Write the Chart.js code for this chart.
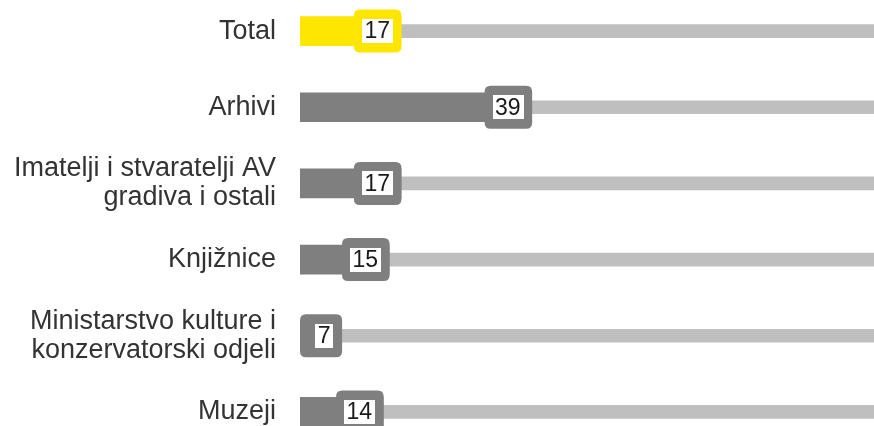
<!DOCTYPE html>
<html><head><meta charset="utf-8">
<script src="https://cdn.jsdelivr.net/npm/chart.js@4.4.1/dist/chart.umd.min.js"></script>
<style>
html,body{margin:0;padding:0;width:874px;height:426px;overflow:hidden;background:#fff;}
#wrap{position:absolute;left:0;top:-7px;width:894px;height:457px;}
</style></head><body>
<div id="wrap"><canvas id="c"></canvas></div>
<script>
const categories = [
  ["Total"],
  ["Arhivi"],
  ["Imatelji i stvaratelji AV", "gradiva i ostali"],
  ["Knjižnice"],
  ["Ministarstvo kulture i", "konzervatorski odjeli"],
  ["Muzeji"]
];
const values = [17, 39, 17, 15, 7, 14];
const trackValues = [100, 100, 100, 100, 100, 100];
const axisMin = 0;
const axisMax = 100;

const YELLOW = '#FFE600', GRAY = '#7F7F7F', TRACK = '#BFBFBF';
const colorFor = i => i === 0 ? YELLOW : GRAY;

function roundRect(ctx, x, y, w, h, r) {
  ctx.beginPath();
  ctx.moveTo(x + r, y);
  ctx.lineTo(x + w - r, y);
  ctx.quadraticCurveTo(x + w, y, x + w, y + r);
  ctx.lineTo(x + w, y + h - r);
  ctx.quadraticCurveTo(x + w, y + h, x + w - r, y + h);
  ctx.lineTo(x + r, y + h);
  ctx.quadraticCurveTo(x, y + h, x, y + h - r);
  ctx.lineTo(x, y + r);
  ctx.quadraticCurveTo(x, y, x + r, y);
  ctx.closePath();
}

const labelBoxes = {
  id: 'labelBoxes',
  afterDatasetsDraw(chart) {
    const ctx = chart.ctx;
    const meta = chart.getDatasetMeta(0);
    ctx.save();
    ctx.font = '23px "Liberation Sans", Arial, sans-serif';
    meta.data.forEach((el, i) => {
      const txt = String(values[i]);
      const tw = ctx.measureText(txt).width;
      const innerW = tw + 5;
      const outerW = Math.max(40, innerW + 17);
      const outerH = 43;
      const right = el.x + 0.5;
      let left = right - outerW;
      if (left < chart.chartArea.left + 6) left = chart.chartArea.left;
      const top = el.y - outerH / 2;
      ctx.fillStyle = colorFor(i);
      roundRect(ctx, left, top, right - left, outerH, 6);
      ctx.fill();
      const innerRight = right - 9;
      const innerLeft = innerRight - innerW;
      const innerH = 24;
      ctx.fillStyle = '#FFFFFF';
      ctx.fillRect(Math.round(innerLeft), Math.round(el.y - innerH / 2), Math.round(innerW), innerH);
      ctx.fillStyle = '#1A1A1A';
      ctx.textAlign = 'center';
      ctx.textBaseline = 'middle';
      ctx.fillText(txt, innerLeft + innerW / 2, el.y + 1);
    });
    ctx.restore();
  }
};

new Chart(document.getElementById('c'), {
  type: 'bar',
  data: {
    labels: categories,
    datasets: [
      {
        data: values,
        backgroundColor: ctx => colorFor(ctx.dataIndex),
        barThickness: 29,
        grouped: false,
        borderWidth: 0
      },
      {
        data: trackValues,
        backgroundColor: TRACK,
        barThickness: 13,
        grouped: false,
        borderWidth: 0
      }
    ]
  },
  options: {
    indexAxis: 'y',
    responsive: true,
    maintainAspectRatio: false,
    animation: false,
    layout: { padding: 0 },
    plugins: { legend: { display: false }, tooltip: { enabled: false } },
    scales: {
      x: { display: false, min: axisMin, max: axisMax },
      y: {
        grid: { display: false, drawTicks: false },
        border: { display: false },
        ticks: {
          color: '#333333',
          padding: 24,
          font: { family: '"Liberation Sans", Arial, sans-serif', size: 27, lineHeight: 1.07 }
        },
        afterFit(scale) { scale.width = 300; scale.paddingTop = 0; scale.paddingBottom = 0; }
      }
    }
  },
  plugins: [labelBoxes]
});
</script>
</body></html>
